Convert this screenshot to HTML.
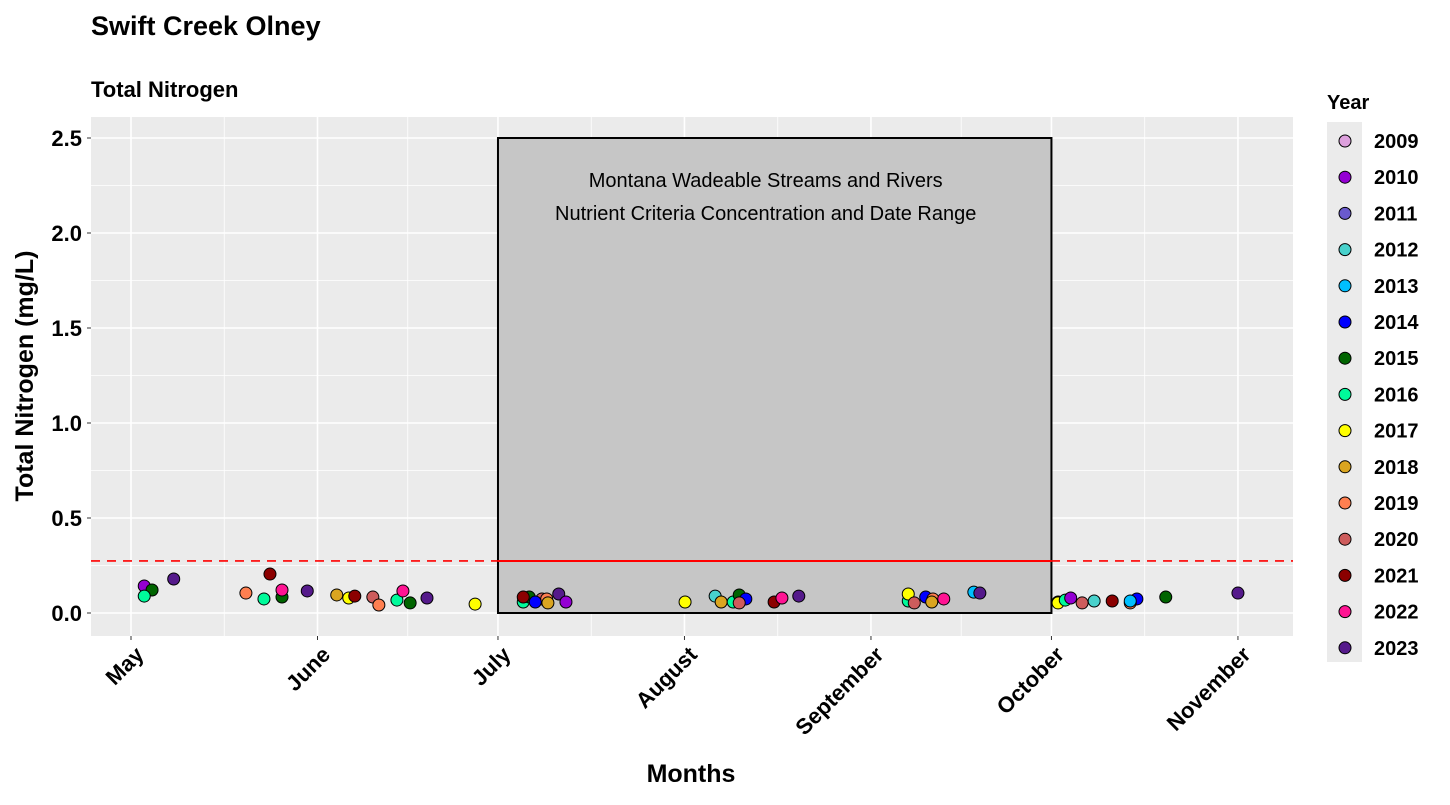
<!DOCTYPE html>
<html><head><meta charset="utf-8"><style>
body{margin:0;background:#fff;font-family:"Liberation Sans",Arial,sans-serif}
text{font-family:"Liberation Sans",Arial,sans-serif}
</style></head><body>
<svg id="chart" width="1450" height="800" xmlns="http://www.w3.org/2000/svg">
<text x="91" y="35" font-size="27" font-weight="bold">Swift Creek Olney</text>
<text x="91" y="97" font-size="22" font-weight="bold">Total Nitrogen</text>
<rect x="91" y="117" width="1202" height="519" fill="#ebebeb"/>
<g id="grid"></g>
<g id="box"></g>
<g id="points"></g>
<g id="axes"></g>
<text transform="translate(33,376) rotate(-90)" text-anchor="middle" font-size="25" font-weight="bold">Total Nitrogen (mg/L)</text>
<text x="691" y="782" text-anchor="middle" font-size="25" font-weight="bold">Months</text>
<g id="legend"></g>
</svg>
<script>
const years=[2009,2010,2011,2012,2013,2014,2015,2016,2017,2018,2019,2020,2021,2022,2023];
const colors=["#dda0dd","#9400d3","#6a5acd","#48d1cc","#00bfff","#0000ff","#006400","#00fa9a","#ffff00","#daa520","#ff7f50","#cd5c5c","#8b0000","#ff1493","#551a8b"];
const monthLabels=["May","June","July","August","September","October","November"];
const monthDays=[0,31,61,92,123,153,184];
const yTicks=[0,0.5,1,1.5,2,2.5];
const criterion=0.274;
const boxStart=61, boxEnd=153, boxTop=2.5;
const ptYear=[2010,2015,2016,2023,2019,2016,2021,2015,2022,2023,2018,2017,2021,2020,2019,2016,2022,2015,2023,2017,
2016,2015,2021,2020,2019,2014,2018,2023,2010,2017,2012,2018,2016,2015,2014,2020,2021,2022,2023,
2016,2017,2020,2014,2019,2018,2022,2013,2023,2018,2017,2016,2010,2020,2012,2021,2014,2019,2013,2015,2023];
const ptDay=[2.2,3.5,2.2,7.1,19.1,22.1,23.1,25.1,25.1,29.3,34.2,36.2,37.2,40.2,41.2,44.2,45.2,46.4,49.2,57.2,
65.2,66.2,65.2,68.3,69.1,67.2,69.3,71.1,72.3,92.1,97.1,98.1,100.1,101.1,102.2,101.1,106.9,108.2,111.0,
129.2,129.2,130.2,132.1,133.3,133.1,135.1,140.1,141.1,154.1,154.1,155.3,156.2,158.1,160.1,163.1,167.2,166.1,166.1,172.0,184.0];
const ptVal=[.142,.121,.089,.179,.105,.074,.205,.084,.121,.116,.095,.079,.089,.084,.042,.068,.116,.053,.079,.047,
.058,.084,.084,.074,.074,.058,.053,.1,.058,.058,.089,.058,.058,.095,.074,.053,.058,.079,.089,
.063,.1,.053,.084,.074,.058,.074,.11,.105,.058,.053,.068,.079,.053,.063,.063,.074,.053,.063,.084,.105];
const NS="http://www.w3.org/2000/svg";
const X=d=>131+d*6.016;
const Y=v=>613-v*190;
function mk(parent,tag,attrs){const e=document.createElementNS(NS,tag);for(const k in attrs)e.setAttribute(k,attrs[k]);document.getElementById(parent).appendChild(e);return e;}
for(let i=0;i<yTicks.length;i++){
  if(i<yTicks.length-1){const m=(yTicks[i]+yTicks[i+1])/2;
    const g=mk('grid','line',{x1:91,x2:1293,y1:Y(m),y2:Y(m),stroke:'#fff','stroke-width':0.8});
    
    }
  const l=mk('grid','line',{x1:91,x2:1293,y1:Y(yTicks[i]),y2:Y(yTicks[i]),stroke:'#fff','stroke-width':1.6});
  
  
  const t=mk('axes','text',{x:82,y:Y(yTicks[i])+8,'text-anchor':'end','font-size':22,'font-weight':'bold'});
  t.textContent=yTicks[i].toFixed(1);
  
  
  const tk=mk('axes','line',{x1:87,x2:91,y1:Y(yTicks[i]),y2:Y(yTicks[i]),stroke:'#333','stroke-width':1});
  
  
}
for(let i=0;i<monthDays.length;i++){
  if(i<monthDays.length-1){const m=(monthDays[i]+monthDays[i+1])/2;
    const g=mk('grid','line',{x1:X(m),x2:X(m),y1:117,y2:636,stroke:'#fff','stroke-width':0.8});
    
    }
  const x=X(monthDays[i]);
  const l=mk('grid','line',{x1:x,x2:x,y1:117,y2:636,stroke:'#fff','stroke-width':1.6});
  
  
  const tk=mk('axes','line',{x1:x,x2:x,y1:636,y2:640,stroke:'#333','stroke-width':1});
  
  
  const t=mk('axes','text',{transform:`translate(${x+14},${656}) rotate(-45)`,'text-anchor':'end','font-size':22,'font-weight':'bold'});
  t.textContent=monthLabels[i];
  
  
}
const r=mk('box','rect',{x:X(boxStart),y:Y(boxTop),width:X(boxEnd)-X(boxStart),height:Y(0)-Y(boxTop),fill:'#c6c6c6',stroke:'#000','stroke-width':2});


const dl=mk('box','line',{x1:91,x2:1293,y1:Y(criterion),y2:Y(criterion),stroke:'#f00','stroke-width':1.6,'stroke-dasharray':'9,7'});


const sl=mk('box','line',{x1:X(boxStart),x2:X(boxEnd),y1:Y(criterion),y2:Y(criterion),stroke:'#f00','stroke-width':2});


const lines=["Montana Wadeable Streams and Rivers","Nutrient Criteria Concentration and Date Range"];
lines.forEach((s,i)=>{const t=mk('box','text',{x:(X(boxStart)+X(boxEnd))/2-9,y:187+i*33,'text-anchor':'middle','font-size':20});
  t.textContent=s;
  
  });
for(let i=0;i<ptVal.length;i++){
  const c=mk('points','circle',{cx:X(ptDay[i]),cy:Y(ptVal[i]),r:6,fill:colors[years.indexOf(ptYear[i])],stroke:'#000','stroke-width':1});
  
  
}
const lt=mk('legend','text',{x:1327,y:109,'font-size':20,'font-weight':'bold'});
lt.textContent='Year';


const lb=mk('legend','rect',{x:1327,y:122,width:35,height:540,fill:'#ebebeb'});


years.forEach((y,i)=>{const cy=141+i*36.2;
  const c=mk('legend','circle',{cx:1345,cy:cy,r:6,fill:colors[i],stroke:'#000','stroke-width':1});
  
  
  const t=mk('legend','text',{x:1374,y:cy+7,'font-size':20,'font-weight':'bold'});
  t.textContent=y;
  
  });
</script>
</body></html>
